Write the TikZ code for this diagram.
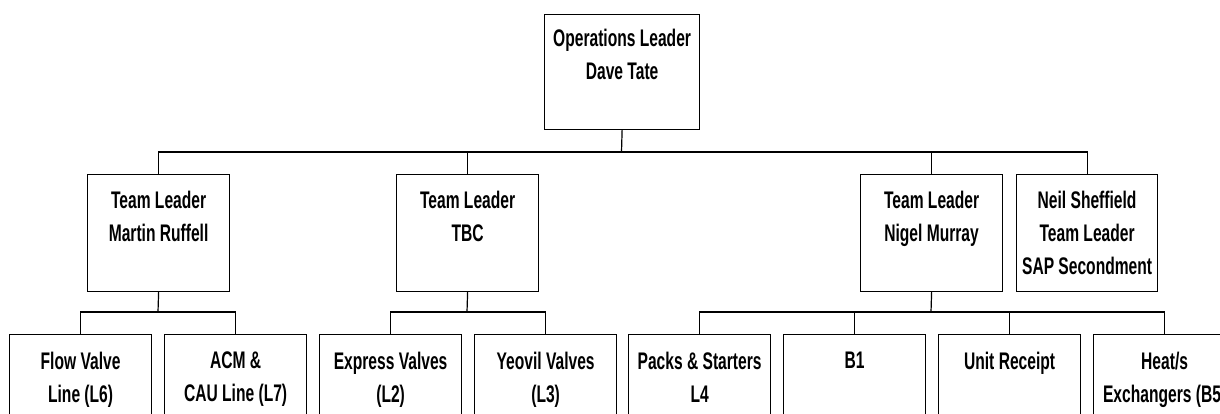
\documentclass[tikz,border=0pt]{standalone}
\usepackage{fontspec}
\setmainfont{Liberation Sans}[FakeStretch=0.65]
\begin{document}
\begin{tikzpicture}[x=1pt,y=-1pt,
  box/.style={draw, line width=1.2pt, rectangle, inner sep=0pt, anchor=north west, minimum width=142pt, minimum height=117pt},
  leaf/.style={box, minimum height=130pt},
  txt/.style={anchor=north, inner sep=0pt, align=center, font=\bfseries\fontsize{24}{33}\selectfont},
  conn/.style={line width=1.2pt}]
\path[use as bounding box, clip] (0,0) rectangle (1220,413);
% boxes
\node[box, minimum width=155pt, minimum height=115pt] (top) at (544,14) {};
\node[box] (mr) at (87,174) {};
\node[box] (tbc) at (396,174) {};
\node[box] (nm) at (860,174) {};
\node[box, minimum width=141pt] (ns) at (1016,174) {};
\node[leaf] (l6) at (9,334) {};
\node[leaf] (l7) at (164,334) {};
\node[leaf] (l2) at (319,334) {};
\node[leaf] (l3) at (474,334) {};
\node[leaf] (l4) at (628,334) {};
\node[leaf] (b1) at (783,334) {};
\node[leaf] (ur) at (938,334) {};
\node[leaf] (hx) at (1093,334) {};
% texts
\node[txt] (ttop) at ([yshift=-15pt]top.north) {Operations Leader\\Dave Tate};
\node[txt] (tmr) at ([yshift=-17pt]mr.north) {Team Leader\\Martin Ruffell};
\node[txt] (ttbc) at ([yshift=-17pt]tbc.north) {Team Leader\\TBC};
\node[txt] (tnm) at ([yshift=-17pt]nm.north) {Team Leader\\Nigel Murray};
\node[txt] (tns) at ([yshift=-17pt]ns.north) {Neil Sheffield\\Team Leader\\SAP Secondment};
\node[txt] (tl6) at ([yshift=-18pt]l6.north) {Flow Valve\\Line (L6)};
\node[txt] (tl7) at ([yshift=-18pt]l7.north) {ACM \&\\CAU Line (L7)};
\node[txt] (tl2) at ([yshift=-18pt]l2.north) {Express Valves\\(L2)};
\node[txt] (tl3) at ([yshift=-18pt]l3.north) {Yeovil Valves\\(L3)};
\node[txt] (tl4) at ([yshift=-18pt]l4.north) {Packs \& Starters\\L4};
\node[txt] (tb1) at ([yshift=-18pt]b1.north) {B1};
\node[txt] (tur) at ([yshift=-18pt]ur.north) {Unit Receipt};
\node[txt] (thx) at ([yshift=-18pt]hx.north) {Heat/s\\Exchangers (B5)};
% connectors
\coordinate (bus) at (621.5,152);
\coordinate (mbus) at (158,312);
\coordinate (tbus) at (467,312);
\coordinate (nbus) at (931,312);
\draw[conn] (top.south) -- (bus);
\draw[conn] (mr.north) |- (ns.north |- bus) -- (ns.north);
\draw[conn] (tbc.north) -- (tbc.north |- bus);
\draw[conn] (nm.north) -- (nm.north |- bus);
\draw[conn] (mr.south) -- (mbus);
\draw[conn] (l6.north) |- (l7.north |- mbus) -- (l7.north);
\draw[conn] (tbc.south) -- (tbus);
\draw[conn] (l2.north) |- (l3.north |- tbus) -- (l3.north);
\draw[conn] (nm.south) -- (nbus);
\draw[conn] (l4.north) |- (hx.north |- nbus) -- (hx.north);
\draw[conn] (b1.north) -- (b1.north |- nbus);
\draw[conn] (ur.north) -- (ur.north |- nbus);
\end{tikzpicture}
\end{document}
